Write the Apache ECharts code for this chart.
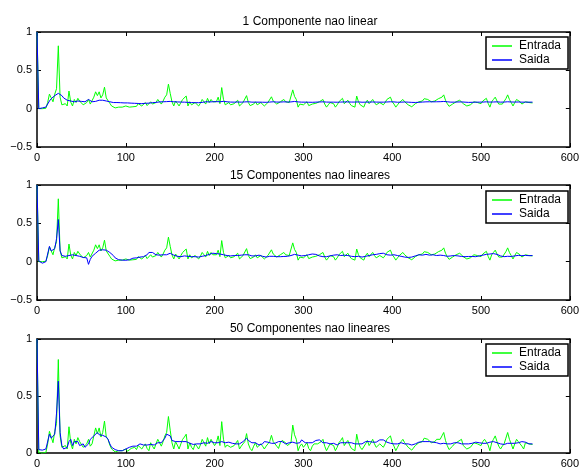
<!DOCTYPE html>
<html>
<head>
<meta charset="utf-8">
<script src="https://cdn.jsdelivr.net/npm/echarts@6/dist/echarts.min.js"></script>
<style>
html,body{margin:0;padding:0;background:#fff;}
#chart{width:582px;height:469px;}
</style>
</head>
<body>
<div id="chart"></div>
<script>
// sample spacing along the x axis (sample index)
const xStep = 2;
const titles = ['1 Componente nao linear', '15 Componentes nao lineares', '50 Componentes nao lineares'];
const seriesNames = ['Entrada', 'Saida'];
const xTicks = [0, 100, 200, 300, 400, 500, 600];
const yRanges = [[-0.5, 1], [-0.5, 1], [0, 1]];

const entrada = [
1.0, 0.0, 0.005, 0.0, 0.01, 0.005, 0.08, 0.19, 0.14, 0.09,
0.19, 0.26, 0.82, 0.15, 0.05, 0.035, 0.065, 0.035, 0.23, 0.085,
0.035, 0.12, 0.08, 0.135, 0.1, 0.11, 0.05, 0.035, 0.08, 0.12,
0.06, 0.08, 0.15, 0.22, 0.17, 0.22, 0.14, 0.18, 0.28, 0.14,
0.12, 0.07, 0.035, 0.02, 0.01, 0.015, 0.02, 0.01, 0.02, 0.005,
0.035, 0.015, 0.02, 0.04, 0.025, 0.05, 0.03, 0.065, 0.05, 0.035,
0.06, 0.08, 0.04, 0.02, 0.09, 0.06, 0.035, 0.08, 0.12, 0.12,
0.06, 0.1, 0.15, 0.18, 0.32, 0.2, 0.09, 0.035, 0.1, 0.07,
0.035, 0.08, 0.12, 0.14, 0.165, 0.035, 0.09, 0.05, 0.03, 0.08,
0.06, 0.035, 0.07, 0.12, 0.09, 0.06, 0.135, 0.08, 0.12, 0.09,
0.065, 0.09, 0.15, 0.065, 0.275, 0.12, 0.05, 0.07, 0.08, 0.05,
0.035, 0.065, 0.08, 0.11, 0.035, 0.06, 0.08, 0.1, 0.17, 0.08,
0.04, 0.02, 0.06, 0.09, 0.05, 0.06, 0.08, 0.06, 0.035, 0.06,
0.08, 0.1, 0.155, 0.1, 0.08, 0.06, 0.04, 0.09, 0.11, 0.12,
0.09, 0.065, 0.08, 0.09, 0.245, 0.16, 0.12, 0.02, 0.06, 0.08,
0.05, 0.07, 0.09, 0.04, 0.02, 0.06, 0.08, 0.07, 0.08, 0.09,
0.1, 0.12, 0.06, 0.02, 0.05, 0.08, 0.07, 0.065, 0.02, 0.05,
0.09, 0.11, 0.135, 0.065, 0.09, 0.11, 0.07, 0.04, 0.03, 0.02,
0.165, 0.09, 0.05, 0.03, 0.02, 0.08, 0.11, 0.065, 0.09, 0.12,
0.08, 0.05, 0.06, 0.08, 0.07, 0.05, 0.08, 0.12, 0.11, 0.15,
0.09, 0.06, 0.02, 0.05, 0.08, 0.1, 0.12, 0.09, 0.08, 0.05,
0.035, 0.025, 0.02, 0.065, 0.08, 0.09, 0.1, 0.1, 0.13, 0.135,
0.12, 0.12, 0.09, 0.08, 0.1, 0.12, 0.13, 0.12, 0.15, 0.18,
0.11, 0.065, 0.03, 0.02, 0.06, 0.08, 0.09, 0.1, 0.11, 0.12,
0.065, 0.05, 0.035, 0.04, 0.05, 0.07, 0.09, 0.085, 0.08, 0.07,
0.065, 0.1, 0.12, 0.135, 0.07, 0.02, 0.09, 0.12, 0.15, 0.1,
0.06, 0.035, 0.06, 0.08, 0.13, 0.18, 0.12, 0.08, 0.035, 0.08,
0.12, 0.1, 0.09, 0.06, 0.035, 0.09, 0.085, 0.08, 0.08, 0.075
];

const saida1 = [
1.0, 0.0, 0.005, 0.01, 0.015, 0.02, 0.04, 0.1, 0.13, 0.15,
0.17, 0.19, 0.2, 0.2, 0.17, 0.14, 0.12, 0.11, 0.11, 0.1,
0.09, 0.09, 0.095, 0.1, 0.1, 0.095, 0.095, 0.09, 0.1, 0.12,
0.1, 0.09, 0.09, 0.095, 0.1, 0.11, 0.12, 0.11, 0.1, 0.1,
0.095, 0.09, 0.085, 0.08, 0.08, 0.08, 0.08, 0.078, 0.075, 0.075,
0.075, 0.075, 0.075, 0.072, 0.07, 0.07, 0.07, 0.068, 0.065, 0.065,
0.068, 0.07, 0.072, 0.072, 0.075, 0.078, 0.08, 0.082, 0.085, 0.088,
0.09, 0.09, 0.09, 0.092, 0.095, 0.095, 0.092, 0.09, 0.09, 0.088,
0.088, 0.086, 0.085, 0.085, 0.085, 0.082, 0.08, 0.08, 0.078, 0.078,
0.078, 0.078, 0.08, 0.082, 0.085, 0.09, 0.09, 0.088, 0.088, 0.09,
0.09, 0.092, 0.092, 0.09, 0.095, 0.095, 0.092, 0.09, 0.088, 0.086,
0.085, 0.085, 0.086, 0.087, 0.086, 0.085, 0.086, 0.088, 0.09, 0.09,
0.088, 0.085, 0.084, 0.085, 0.085, 0.085, 0.085, 0.084, 0.083, 0.083,
0.084, 0.086, 0.09, 0.09, 0.088, 0.086, 0.085, 0.086, 0.088, 0.089,
0.088, 0.087, 0.087, 0.088, 0.092, 0.094, 0.092, 0.088, 0.086, 0.085,
0.085, 0.085, 0.085, 0.084, 0.083, 0.083, 0.084, 0.085, 0.086, 0.087,
0.088, 0.089, 0.088, 0.086, 0.085, 0.085, 0.085, 0.085, 0.084, 0.084,
0.085, 0.086, 0.088, 0.088, 0.088, 0.088, 0.087, 0.086, 0.085, 0.086,
0.089, 0.088, 0.086, 0.084, 0.084, 0.085, 0.086, 0.086, 0.086, 0.087,
0.087, 0.086, 0.085, 0.085, 0.085, 0.085, 0.086, 0.087, 0.088, 0.09,
0.09, 0.088, 0.085, 0.084, 0.084, 0.085, 0.087, 0.087, 0.086, 0.085,
0.083, 0.082, 0.081, 0.081, 0.082, 0.083, 0.085, 0.086, 0.088, 0.089,
0.09, 0.09, 0.09, 0.089, 0.089, 0.09, 0.09, 0.091, 0.092, 0.094,
0.093, 0.09, 0.087, 0.085, 0.085, 0.085, 0.086, 0.087, 0.088, 0.088,
0.087, 0.085, 0.083, 0.082, 0.082, 0.083, 0.084, 0.085, 0.085, 0.085,
0.085, 0.086, 0.088, 0.089, 0.088, 0.086, 0.086, 0.087, 0.089, 0.089,
0.087, 0.085, 0.085, 0.086, 0.088, 0.09, 0.089, 0.087, 0.085, 0.086,
0.087, 0.087, 0.086, 0.085, 0.084, 0.085, 0.085, 0.085, 0.085, 0.085
];

const saida2 = [
1.0, 0.01, -0.01, -0.02, -0.01, 0.0, 0.01, 0.2, 0.14, 0.12,
0.17, 0.3, 0.55, 0.14, 0.08, 0.07, 0.07, 0.075, 0.08, 0.085,
0.09, 0.085, 0.08, 0.075, 0.07, 0.06, 0.055, 0.05, 0.05, -0.035,
0.03, 0.07, 0.09, 0.11, 0.13, 0.15, 0.16, 0.155, 0.15, 0.15,
0.14, 0.12, 0.1, 0.08, 0.05, 0.035, 0.025, 0.02, 0.02, 0.018,
0.018, 0.02, 0.025, 0.035, 0.045, 0.05, 0.05, 0.055, 0.06, 0.065,
0.065, 0.07, 0.09, 0.12, 0.14, 0.12, 0.1, 0.09, 0.085, 0.085,
0.09, 0.09, 0.085, 0.09, 0.1, 0.11, 0.1, 0.085, 0.075, 0.07,
0.065, 0.065, 0.07, 0.075, 0.08, 0.07, 0.065, 0.065, 0.06, 0.065,
0.065, 0.06, 0.065, 0.07, 0.075, 0.08, 0.09, 0.095, 0.1, 0.11,
0.11, 0.105, 0.11, 0.1, 0.095, 0.09, 0.085, 0.08, 0.08, 0.075,
0.08, 0.08, 0.075, 0.08, 0.085, 0.085, 0.09, 0.09, 0.095, 0.09,
0.08, 0.075, 0.07, 0.075, 0.08, 0.085, 0.08, 0.07, 0.065, 0.06,
0.065, 0.07, 0.075, 0.07, 0.065, 0.065, 0.06, 0.065, 0.07, 0.068,
0.065, 0.07, 0.075, 0.08, 0.09, 0.095, 0.09, 0.085, 0.08, 0.075,
0.075, 0.08, 0.085, 0.09, 0.095, 0.1, 0.1, 0.095, 0.085, 0.075,
0.065, 0.065, 0.06, 0.065, 0.07, 0.075, 0.08, 0.085, 0.09, 0.09,
0.085, 0.08, 0.08, 0.085, 0.085, 0.08, 0.075, 0.07, 0.065, 0.065,
0.07, 0.07, 0.065, 0.06, 0.065, 0.07, 0.075, 0.08, 0.085, 0.09,
0.09, 0.095, 0.1, 0.105, 0.11, 0.11, 0.1, 0.09, 0.085, 0.085,
0.09, 0.09, 0.085, 0.08, 0.075, 0.07, 0.065, 0.06, 0.055, 0.055,
0.055, 0.06, 0.065, 0.075, 0.085, 0.09, 0.09, 0.085, 0.09, 0.095,
0.09, 0.085, 0.09, 0.09, 0.085, 0.08, 0.08, 0.085, 0.085, 0.08,
0.075, 0.07, 0.07, 0.075, 0.078, 0.08, 0.078, 0.075, 0.07, 0.068,
0.065, 0.065, 0.065, 0.068, 0.07, 0.068, 0.065, 0.065, 0.07, 0.075,
0.08, 0.085, 0.09, 0.095, 0.1, 0.1, 0.1, 0.105, 0.1, 0.095,
0.085, 0.075, 0.07, 0.065, 0.065, 0.07, 0.07, 0.068, 0.07, 0.075,
0.08, 0.082, 0.08, 0.078, 0.08, 0.082, 0.08, 0.078, 0.08, 0.08
];

const saida3 = [
1.0, 0.03, 0.02, 0.025, 0.03, 0.035, 0.05, 0.165, 0.13, 0.12,
0.165, 0.35, 0.63, 0.18, 0.065, 0.035, 0.03, 0.05, 0.1, 0.12,
0.065, 0.1, 0.1, 0.1, 0.065, 0.075, 0.08, 0.05, 0.035, 0.08,
0.12, 0.13, 0.15, 0.155, 0.18, 0.16, 0.15, 0.155, 0.16, 0.14,
0.12, 0.08, 0.05, 0.035, 0.03, 0.025, 0.02, 0.01, 0.02, 0.025,
0.035, 0.045, 0.05, 0.05, 0.06, 0.05, 0.06, 0.07, 0.08, 0.075,
0.07, 0.065, 0.07, 0.08, 0.075, 0.08, 0.07, 0.08, 0.09, 0.1,
0.09, 0.1, 0.13, 0.165, 0.18, 0.15, 0.11, 0.1, 0.1, 0.095,
0.1, 0.105, 0.1, 0.095, 0.1, 0.09, 0.085, 0.08, 0.075, 0.08,
0.08, 0.075, 0.08, 0.085, 0.09, 0.08, 0.085, 0.09, 0.1, 0.095,
0.09, 0.095, 0.09, 0.085, 0.1, 0.11, 0.09, 0.085, 0.095, 0.09,
0.085, 0.08, 0.08, 0.085, 0.08, 0.085, 0.1, 0.11, 0.13, 0.11,
0.095, 0.09, 0.095, 0.09, 0.08, 0.07, 0.065, 0.08, 0.1, 0.11,
0.095, 0.09, 0.085, 0.09, 0.085, 0.09, 0.1, 0.11, 0.1, 0.085,
0.08, 0.085, 0.09, 0.085, 0.095, 0.09, 0.085, 0.08, 0.09, 0.115,
0.1, 0.09, 0.085, 0.09, 0.085, 0.09, 0.1, 0.11, 0.12, 0.115,
0.1, 0.09, 0.085, 0.09, 0.085, 0.08, 0.09, 0.085, 0.075, 0.07,
0.08, 0.09, 0.095, 0.09, 0.095, 0.09, 0.085, 0.09, 0.085, 0.08,
0.085, 0.08, 0.075, 0.08, 0.09, 0.1, 0.115, 0.1, 0.09, 0.095,
0.09, 0.095, 0.1, 0.115, 0.13, 0.115, 0.1, 0.095, 0.09, 0.085,
0.08, 0.08, 0.075, 0.08, 0.085, 0.09, 0.085, 0.08, 0.085, 0.08,
0.075, 0.07, 0.07, 0.08, 0.09, 0.095, 0.1, 0.1, 0.105, 0.1,
0.095, 0.1, 0.1, 0.095, 0.09, 0.09, 0.085, 0.08, 0.08, 0.085,
0.08, 0.08, 0.075, 0.08, 0.085, 0.09, 0.095, 0.09, 0.08, 0.08,
0.075, 0.08, 0.085, 0.08, 0.075, 0.085, 0.09, 0.095, 0.09, 0.09,
0.085, 0.085, 0.09, 0.085, 0.09, 0.095, 0.1, 0.1, 0.095, 0.09,
0.085, 0.08, 0.08, 0.075, 0.08, 0.085, 0.08, 0.085, 0.09, 0.085,
0.085, 0.09, 0.095, 0.1, 0.11, 0.095, 0.085, 0.08, 0.08, 0.08
];

const outputs = [saida1, saida2, saida3];

const FONT = '"Liberation Sans", Arial, Helvetica, sans-serif';
const gridTops = [32, 185, 339];
const titleTops = [11, 165, 318];
const legendTops = [37, 191, 344];

function pairs(arr) { return arr.map((v, i) => [i * xStep, v]); }

const grids = [], xAxes = [], yAxes = [], series = [], titleArr = [], legends = [];
const axisLineStyle = { color: '#000', width: 1.5 };
const tickStyle = { inside: true, length: 4, lineStyle: { color: '#000', width: 1 } };
const labelStyle = { color: '#000', fontSize: 11, fontFamily: FONT };

for (let g = 0; g < 3; g++) {
  grids.push({ left: 37, top: gridTops[g], width: 536, height: 115 });
  xAxes.push({
    gridIndex: g, type: 'value', position: 'bottom',
    min: xTicks[0], max: xTicks[xTicks.length - 1], interval: 100,
    axisLine: { onZero: false, lineStyle: axisLineStyle },
    axisTick: tickStyle, splitLine: { show: false },
    axisLabel: Object.assign({ margin: 5 }, labelStyle)
  });
  xAxes.push({
    gridIndex: g, type: 'value', position: 'top',
    min: xTicks[0], max: xTicks[xTicks.length - 1], interval: 100,
    axisLine: { onZero: false, lineStyle: axisLineStyle },
    axisTick: tickStyle, splitLine: { show: false },
    axisLabel: { show: false }
  });
  const yr = yRanges[g];
  yAxes.push({
    gridIndex: g, type: 'value', position: 'left',
    min: yr[0], max: yr[1], interval: 0.5,
    axisLine: { show: true, onZero: false, lineStyle: axisLineStyle },
    axisTick: Object.assign({ show: true }, tickStyle), splitLine: { show: false },
    axisLabel: Object.assign({ margin: 5, formatter: v => String(v).replace('-', '\u2212') }, labelStyle)
  });
  yAxes.push({
    gridIndex: g, type: 'value', position: 'right',
    min: yr[0], max: yr[1], interval: 0.5,
    axisLine: { show: true, onZero: false, lineStyle: axisLineStyle },
    axisTick: Object.assign({ show: true }, tickStyle), splitLine: { show: false },
    axisLabel: { show: false }
  });
  series.push({
    name: seriesNames[0], type: 'line', xAxisIndex: 2 * g, yAxisIndex: 2 * g,
    data: pairs(entrada), symbol: 'none', showSymbol: false,
    lineStyle: { color: '#00ff00', width: 1 }, itemStyle: { color: '#00ff00' },
    animation: false, z: 2
  });
  series.push({
    name: seriesNames[1], type: 'line', xAxisIndex: 2 * g, yAxisIndex: 2 * g,
    data: pairs(outputs[g]), symbol: 'none', showSymbol: false,
    lineStyle: { color: '#0000ff', width: 1 }, itemStyle: { color: '#0000ff' },
    animation: false, z: 3
  });
  titleArr.push({
    text: titles[g], left: 305, top: titleTops[g], textAlign: 'center',
    textStyle: { fontSize: 12, fontWeight: 'normal', color: '#000', fontFamily: FONT }
  });
  legends.push({
    data: seriesNames, orient: 'vertical', left: 486, top: legendTops[g],
    icon: 'rect', itemWidth: 20, itemHeight: 1.5, itemGap: 2,
    padding: [3, 7, 3, 6],
    borderColor: '#000', borderWidth: 1.5, backgroundColor: '#fff',
    selectedMode: false,
    textStyle: { fontSize: 12, lineHeight: 12, height: 12, color: '#000', fontFamily: FONT, padding: [0, 0, 0, 2] }
  });
}

const chart = echarts.init(document.getElementById('chart'), null, { renderer: 'canvas' });
chart.setOption({
  backgroundColor: '#fff',
  animation: false,
  title: titleArr,
  legend: legends,
  grid: grids,
  xAxis: xAxes,
  yAxis: yAxes,
  series: series
});
</script>
</body>
</html>
